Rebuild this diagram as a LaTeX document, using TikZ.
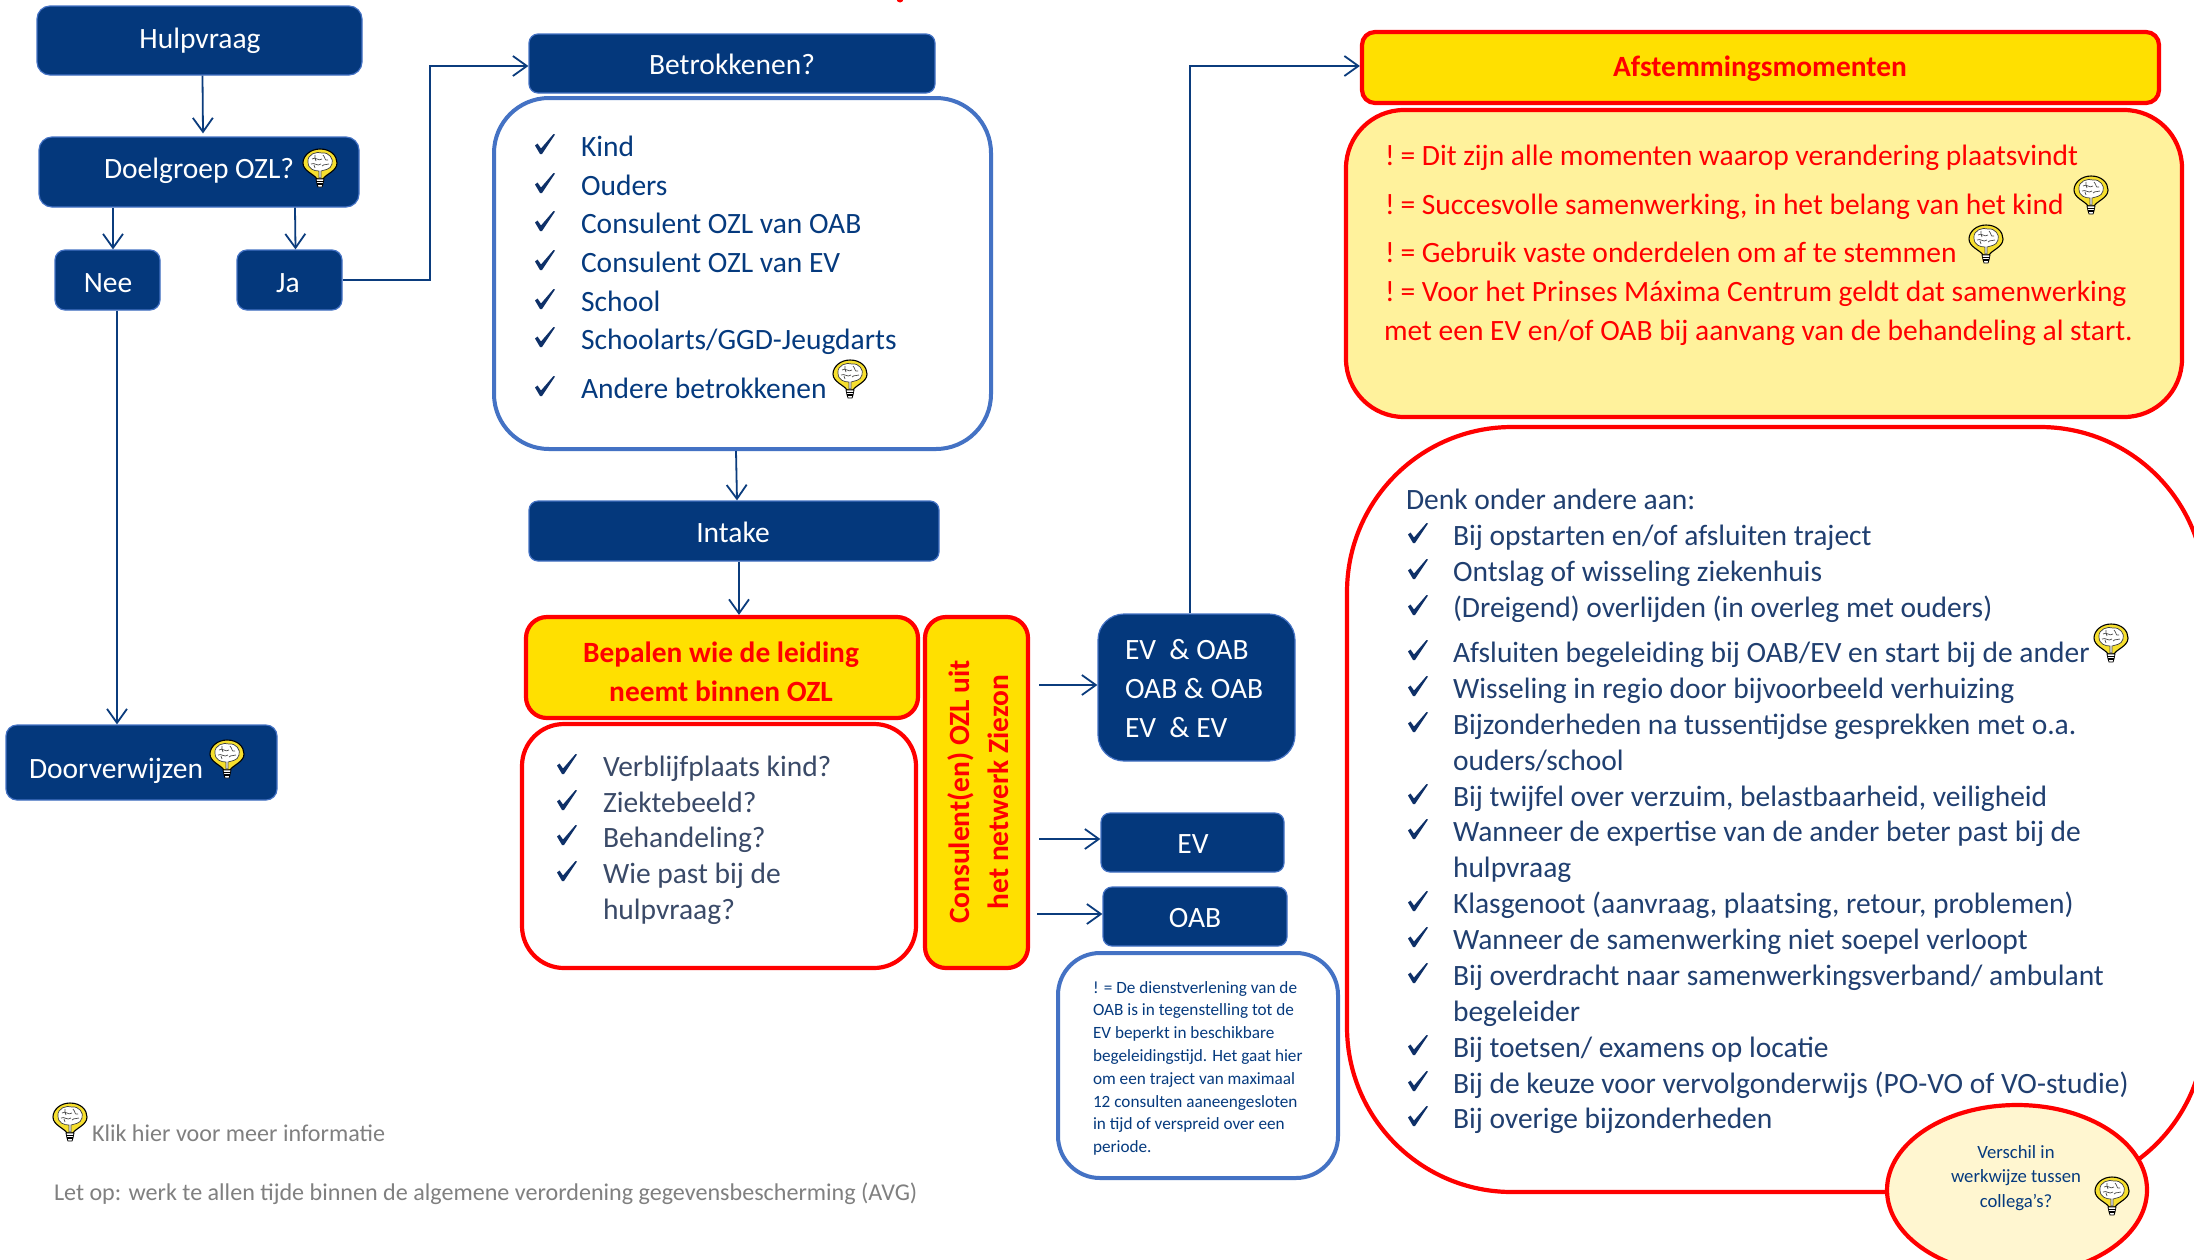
\documentclass[tikz,border=0pt]{standalone}
\usepackage{fontspec}
\setmainfont{Carlito}
\usetikzlibrary{arrows.meta,shapes.geometric}
\definecolor{navy}{HTML}{04387C}
\definecolor{edgeblue}{HTML}{4472C4}
\definecolor{linkblue}{HTML}{0B3C7D}
\definecolor{gold}{HTML}{FFE000}
\definecolor{paleyellow}{HTML}{FFF29C}
\definecolor{cream}{HTML}{FFF6D0}
\definecolor{listblue}{HTML}{053A7E}
\definecolor{slateblue}{HTML}{3A4A68}
\definecolor{darkblue}{HTML}{203F70}
\definecolor{tickblue}{HTML}{0E3068}
\definecolor{bulbyellow}{HTML}{F6DF2E}
\newcount\linenum
\newcommand{\boxat}[7]{% name, style, x1,y1,x2,y2, radius
  \pgfmathsetmacro{\bw}{#5-#3}\pgfmathsetmacro{\bh}{#6-#4}
  \pgfmathsetmacro{\bx}{(#3+#5)/2}\pgfmathsetmacro{\by}{(#4+#6)/2}
  \node[#2,minimum width=\bw pt,minimum height=\bh pt,rounded corners=#7pt] (#1) at (\bx,\by) {};}
\newcommand{\txt}[4]{% style, x, baseline, text
  \global\advance\linenum by 1
  \node[#1] (line\the\linenum) at (#2,#3) {#4};}
\newcommand{\tickline}[4]{% tick x, text x, baseline, text
  \pic at (#1,#3-22) {tick};
  \global\advance\linenum by 1
  \node[lst] (line\the\linenum) at (#2,#3) {#4};}
\newcommand{\exq}{!\hspace{-3pt} = }
\tikzset{
  navybox/.style={draw=edgeblue,line width=1.2pt,fill=navy,inner sep=0pt},
  bluepanel/.style={draw=edgeblue,line width=4pt,fill=white,inner sep=0pt},
  redpanel/.style={draw=red,line width=4.2pt,fill=white,inner sep=0pt},
  goldbox/.style={draw=red,line width=4.2pt,fill=gold,inner sep=0pt},
  sz/.style={font=\fontsize{#1}{#1}\selectfont},
  base/.style={inner sep=0pt,outer sep=0pt},
  wc/.style={base,anchor=base,text=white,sz=29.5},
  wl/.style={base,anchor=base west,text=white,sz=29.5},
  lst/.style={base,anchor=base west,sz=29.5,text=listblue},
  redl/.style={base,anchor=base west,sz=29.5,text=red},
  redb/.style={base,anchor=base,text=red,font=\fontsize{29.4}{29.4}\selectfont\bfseries},
  note/.style={base,anchor=base west,sz=17.2,text=listblue},
  ell/.style={base,anchor=base,sz=18.7,text=listblue},
  grey/.style={base,anchor=base west,sz=24.1,text=black!50},
  link/.style={draw=linkblue,line width=1.8pt,-{Straight Barb[length=14pt,width=20pt,line width=1.8pt]}},
  tick/.pic={\fill[tickblue] (0,11.5) -- (2.5,9.5) -- (6,14.5) -- (18.5,0) -- (20,0.5) -- (7,20) -- (5,20) -- cycle;},
  bulb/.pic={
    \draw[black,line width=1.1pt,fill=bulbyellow] (0,-19) .. controls (11,-19) and (17,-12) .. (17,-5) .. controls (17,3) and (6,6) .. (3,11) -- (-3,11) .. controls (-6,6) and (-17,3) .. (-17,-5) .. controls (-17,-12) and (-10,-19) .. (0,-19) -- cycle;
    \draw[black!75,line width=.7pt,fill=white] (-12,-6) .. controls (-13,-14) and (-3,-17) .. (2,-15) .. controls (9,-16) and (14,-9) .. (12,-4) .. controls (11,2) and (3,2) .. (1,3) -- (1,10) -- (-1,10) -- (-1,3) .. controls (-6,3) and (-12,1) .. (-12,-6) -- cycle;
    \draw[black!70,line width=.7pt] (-8,-9) .. controls (-4,-12) and (-2,-6) .. (2,-9) (-9,-4) .. controls (-5,-6) and (-3,-1) .. (1,-4) (3,-13) .. controls (6,-10) and (4,-7) .. (8,-8) (2,-2) .. controls (5,-5) and (6,-2) .. (9,-4) (-5,-13) .. controls (-4,-10) and (-6,-8) .. (-4,-7) (-6,-3) -- (-5,0);
    \draw[black,line width=.8pt,fill=white] (-4,11) -- (4,11) -- (3,16) -- (2,19) -- (-2,19) -- (-3,16) -- cycle;
    \draw[black,line width=1.2pt] (-4,13.5) -- (4,13.5) (-3,16) -- (3,16);
  },
}
\begin{document}
\begin{tikzpicture}[x=1pt,y=-1pt]
\path[use as bounding box,clip] (0,0) rectangle (2194,1259);
\fill[white] (0,0) rectangle (2194,1259);
\fill[red] (900,-1) circle (3.5);

% left column
\boxat{hulp}{navybox}{37}{6}{362}{75}{13}
\boxat{doel}{navybox}{39}{137}{359}{207}{13}
\boxat{nee}{navybox}{55}{250}{160}{310}{10}
\boxat{ja}{navybox}{237}{250}{342}{310}{10}
\boxat{door}{navybox}{6}{725}{277}{800}{11}
\txt{wc}{200}{48}{Hulpvraag}
\txt{wl}{104}{178}{Doelgroep OZL?}
\txt{wc}{108}{292}{Nee}
\txt{wc}{288}{292}{Ja}
\txt{wl}{29}{778}{Doorverwijzen}

% middle column
\boxat{betr}{navybox}{529}{34}{935}{93}{9}
\boxat{wie}{bluepanel}{494}{98}{991}{449}{55}
\boxat{intake}{navybox}{529}{501}{939}{561}{9}
\boxat{bepalen}{goldbox}{526}{617}{918}{718}{21}
\boxat{vrag}{redpanel}{522}{724}{916}{968}{42}
\boxat{cons}{goldbox}{925}{617}{1028}{968}{21}
\txt{wc}{732}{74}{Betrokkenen?}
\txt{wc}{733}{542}{Intake}
\txt{redb}{721}{662}{Bepalen wie de leiding}
\txt{redb}{721}{701}{neemt binnen OZL}
\txt{redb,rotate=90}{969}{792}{Consulent(en) OZL uit}
\txt{redb,rotate=90}{1008}{792}{het netwerk Ziezon}
\tickline{535}{581}{156}{Kind}
\tickline{535}{581}{195}{Ouders}
\tickline{535}{581}{233}{Consulent OZL van OAB}
\tickline{535}{581}{272}{Consulent OZL van EV}
\tickline{535}{581}{311}{School}
\tickline{535}{581}{349}{Schoolarts/GGD-Jeugdarts}
\tickline{535}{581}{398}{Andere betrokkenen}
\begin{scope}[lst/.append style={text=slateblue}]
\tickline{557}{603}{776}{Verblijfplaats kind?}
\tickline{557}{603}{812}{Ziektebeeld?}
\tickline{557}{603}{847}{Behandeling?}
\tickline{557}{603}{883}{Wie past bij de}
\txt{lst}{603}{919}{hulpvraag?}
\end{scope}

% consultant column
\boxat{paar}{navybox}{1098}{614}{1295}{761}{26}
\boxat{ev}{navybox}{1101}{813}{1284}{872}{9}
\boxat{oab}{navybox}{1103}{887}{1287}{946}{9}
\boxat{dienst}{bluepanel}{1058}{953}{1338}{1178}{42}
\txt{wl}{1125}{659}{EV\ \ \& OAB}
\txt{wl}{1125}{698}{OAB \& OAB}
\txt{wl}{1125}{737}{EV\ \ \& EV}
\txt{wc}{1193}{853}{EV}
\txt{wc}{1195}{927}{OAB}
\txt{note}{1093}{993}{! = De dienstverlening van de}
\txt{note}{1093}{1015}{OAB is in tegenstelling tot de}
\txt{note}{1093}{1038}{EV beperkt in beschikbare}
\txt{note}{1093}{1061}{begeleidingstijd. Het gaat hier}
\txt{note}{1093}{1084}{om een traject van maximaal}
\txt{note}{1093}{1107}{12 consulten aaneengesloten}
\txt{note}{1093}{1129}{in tijd of verspreid over een}
\txt{note}{1093}{1152}{periode.}

% right column
\boxat{afst}{goldbox}{1362}{32}{2159}{103}{13}
\boxat{punten}{redpanel,fill=paleyellow}{1346}{110}{2182}{417}{58}
\boxat{denk}{redpanel}{1347}{427}{2205}{1192}{165}
\node[ellipse,draw=red,line width=4.2pt,fill=cream,inner sep=0pt,minimum width=260pt,minimum height=170pt] (versch) at (2017,1190) {};
\txt{redb}{1760}{76}{Afstemmingsmomenten}
\txt{redl}{1385}{165}{\exq Dit zijn alle momenten waarop verandering plaatsvindt}
\txt{redl}{1385}{214}{\exq Succesvolle samenwerking, in het belang van het kind}
\txt{redl}{1385}{262}{\exq Gebruik vaste onderdelen om af te stemmen}
\txt{redl}{1385}{301}{\exq Voor het Prinses Máxima Centrum geldt dat samenwerking}
\txt{redl}{1384}{340}{met een EV en/of OAB bij aanvang van de behandeling al start.}
\begin{scope}[lst/.append style={text=darkblue}]
\txt{lst}{1406}{509}{Denk onder andere aan:}
\tickline{1408}{1453}{545}{Bij opstarten en/of afsluiten traject}
\tickline{1408}{1453}{581}{Ontslag of wisseling ziekenhuis}
\tickline{1408}{1453}{617}{(Dreigend) overlijden (in overleg met ouders)}
\tickline{1408}{1453}{662}{Afsluiten begeleiding bij OAB/EV en start bij de ander}
\tickline{1408}{1453}{698}{Wisseling in regio door bijvoorbeeld verhuizing}
\tickline{1408}{1453}{734}{Bijzonderheden na tussentijdse gesprekken met o.a.}
\txt{lst}{1453}{770}{ouders/school}
\tickline{1408}{1453}{806}{Bij twijfel over verzuim, belastbaarheid, veiligheid}
\tickline{1408}{1453}{841}{Wanneer de expertise van de ander beter past bij de}
\txt{lst}{1453}{877}{hulpvraag}
\tickline{1408}{1453}{913}{Klasgenoot (aanvraag, plaatsing, retour, problemen)}
\tickline{1408}{1453}{949}{Wanneer de samenwerking niet soepel verloopt}
\tickline{1408}{1453}{985}{Bij overdracht naar samenwerkingsverband/ ambulant}
\txt{lst}{1453}{1021}{begeleider}
\tickline{1408}{1453}{1057}{Bij toetsen/ examens op locatie}
\tickline{1408}{1453}{1093}{Bij de keuze voor vervolgonderwijs (PO-VO of VO-studie)}
\tickline{1408}{1453}{1128}{Bij overige bijzonderheden}
\end{scope}
\txt{ell}{2016}{1158}{Verschil in}
\txt{ell}{2016}{1182}{werkwijze tussen}
\txt{ell}{2016}{1207}{collega’s?}

% legend
\txt{grey}{92}{1141}{Klik hier voor meer informatie}
\txt{grey}{54}{1200}{Let op: werk te allen tijde binnen de algemene verordening gegevensbescherming (AVG)}

% bulbs
\pic at (320,168) {bulb};
\pic at (850,379) {bulb};
\pic at (227,759) {bulb};
\pic at (2091,195) {bulb};
\pic at (1986,244) {bulb};
\pic at (2111,643) {bulb};
\pic at (2112,1196) {bulb};
\pic at (70,1122) {bulb};

% connectors
\draw[link] ([xshift=3pt]hulp.south) -- ([xshift=4pt,yshift=3pt]doel.north);
\draw[link] ([xshift=-86pt]doel.south) -- ([xshift=5.5pt]nee.north);
\draw[link] ([xshift=96pt]doel.south) -- ([xshift=6pt]ja.north);
\draw[link] (ja.east) -- (430,280) -- (430,66) -- (betr.west |- 0,66);
\draw[link] ([xshift=9.5pt]nee.south) -- ([xshift=-24.5pt]door.north);
\draw[link] ([xshift=-6.5pt]wie.south) -- ([xshift=3pt]intake.north);
\draw[link] ([xshift=5pt]intake.south) -- ([xshift=17pt]bepalen.north);
\draw[link] (1039,685) -- (paar.west |- 0,685);
\draw[link] (1039,839) -- (ev.west |- 0,839);
\draw[link] (1037,914) -- (oab.west |- 0,914);
\draw[link] ([xshift=-6.5pt]paar.north) -- (1190,66) -- (afst.west |- 0,66);
\end{tikzpicture}
\end{document}
